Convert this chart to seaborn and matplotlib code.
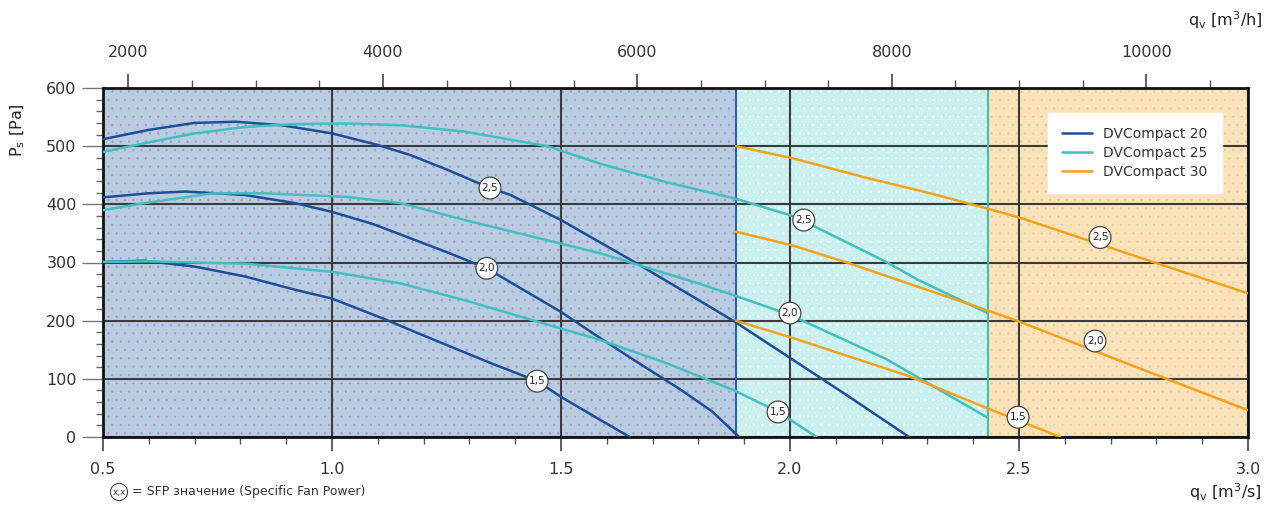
import numpy as np
import pandas as pd
import matplotlib
matplotlib.use("Agg")
import matplotlib.pyplot as plt
import seaborn as sns
from matplotlib.ticker import MultipleLocator

# ---------------- data ----------------
models = ["DVCompact 20", "DVCompact 25", "DVCompact 30"]

dv20_a_q = [0.5, 0.6, 0.7, 0.79, 0.89, 1.0, 1.10, 1.17, 1.25, 1.345, 1.39, 1.50, 1.66, 1.78, 1.88, 2.0, 2.12, 2.26]
dv20_a_p = [512, 528, 540, 542, 536, 522, 502, 485, 460, 428, 416, 373, 301, 245, 198, 136, 74, 0]
dv20_b_q = [0.5, 0.6, 0.68, 0.81, 0.92, 1.0, 1.09, 1.17, 1.25, 1.338, 1.42, 1.50, 1.58, 1.66, 1.76, 1.83, 1.889]
dv20_b_p = [412, 419, 422, 416, 402, 387, 366, 342, 318, 290, 252, 215, 173, 132, 82, 44, 0]
dv20_c_q = [0.5, 0.59, 0.70, 0.81, 0.92, 1.0, 1.12, 1.18, 1.26, 1.35, 1.448, 1.50, 1.58, 1.65]
dv20_c_p = [301, 303, 293, 276, 253, 238, 201, 181, 155, 126, 96, 69, 32, 0]

dv25_a_q = [0.5, 0.59, 0.70, 0.81, 0.92, 1.03, 1.15, 1.29, 1.47, 1.585, 1.73, 1.88, 2.01, 2.21, 2.28, 2.432]
dv25_a_p = [490, 505, 522, 533, 538, 539, 536, 525, 500, 470, 438, 410, 379, 301, 270, 213]
dv25_b_q = [0.5, 0.59, 0.74, 0.85, 1.03, 1.15, 1.29, 1.44, 1.585, 1.73, 1.80, 1.88, 2.0, 2.21, 2.432]
dv25_b_p = [390, 402, 419, 419, 413, 402, 373, 344, 316, 281, 264, 243, 210, 134, 33]
dv25_c_q = [0.5, 0.6, 0.7, 0.81, 1.0, 1.15, 1.29, 1.45, 1.585, 1.73, 1.876, 1.975, 2.058]
dv25_c_p = [301, 302, 300, 298, 284, 264, 235, 198, 167, 127, 81, 43, 0]

dv30_a_q = [1.882, 2.007, 2.16, 2.306, 2.43, 2.506, 2.80, 3.0]
dv30_a_p = [500, 479, 447, 419, 393, 376, 299, 247]
dv30_b_q = [1.882, 2.007, 2.124, 2.43, 2.502, 2.75, 3.0]
dv30_b_p = [353, 329, 300, 218, 198, 122, 46]
dv30_c_q = [1.882, 2.007, 2.262, 2.432, 2.59]
dv30_c_p = [200, 170, 104, 49, 0]

# SFP markers
sfp_q = [1.345, 1.338, 1.448, 2.03, 2.0, 1.974, 2.677, 2.666, 2.498]
sfp_p = [428, 290, 96, 373, 213, 43, 343, 165, 34]
sfp_text = ["2,5", "2,0", "1,5", "2,5", "2,0", "1,5", "2,5", "2,0", "1,5"]

# model operating ranges (background bands)
region_edges = [0.5, 1.882, 2.432, 3.0]

x_ticks = [0.5, 1.0, 1.5, 2.0, 2.5, 3.0]
x_ticklabels = ["0.5", "1.0", "1.5", "2.0", "2.5", "3.0"]
y_ticks = [0, 100, 200, 300, 400, 500, 600]
top_ticks = [2000, 4000, 6000, 8000, 10000]

# ---------------- build table ----------------
curves = [
    ("DVCompact 20", "a", dv20_a_q, dv20_a_p), ("DVCompact 20", "b", dv20_b_q, dv20_b_p),
    ("DVCompact 20", "c", dv20_c_q, dv20_c_p),
    ("DVCompact 25", "a", dv25_a_q, dv25_a_p), ("DVCompact 25", "b", dv25_b_q, dv25_b_p),
    ("DVCompact 25", "c", dv25_c_q, dv25_c_p),
    ("DVCompact 30", "a", dv30_a_q, dv30_a_p), ("DVCompact 30", "b", dv30_b_q, dv30_b_p),
    ("DVCompact 30", "c", dv30_c_q, dv30_c_p),
]
rows = []
for m, c, qs, ps in curves:
    for q, p in zip(qs, ps):
        rows.append({"model": m, "curve": m + c, "q": q, "p": p})
df = pd.DataFrame(rows)

# ---------------- styling ----------------
sns.set_theme(style="white")
plt.rcParams["font.family"] = ["DejaVu Sans"]
plt.rcParams["hatch.linewidth"] = 0.6

line_colors = {"DVCompact 20": "#1d4e96", "DVCompact 25": "#43bfc0", "DVCompact 30": "#f4a21c"}
band_faces = ["#b9cde1", "#c9f0ef", "#fde2b9"]
band_dots = ["#ad98d8", "#f4ffff", "#cfd9a6"]
band_lines = ["#2f5fae", "#3cbcbc", None]

W, H = 1274, 515
fig = plt.figure(figsize=(W / 100, H / 100), dpi=100)
ax = fig.add_axes([103 / W, 1 - 437 / H, (1248 - 103) / W, (437 - 88) / H])

for i in range(3):
    ax.axvspan(region_edges[i], region_edges[i + 1], facecolor=band_faces[i],
               edgecolor=band_dots[i], hatch="..", lw=0, zorder=0)
    if band_lines[i]:
        ax.axvline(region_edges[i + 1], color=band_lines[i], lw=1.5, zorder=1.6)

ax.set_axisbelow(True)
ax.grid(True, which="major", color="#3b3b3b", lw=1.5)

sns.lineplot(data=df, x="q", y="p", hue="model", units="curve", estimator=None,
             sort=False, palette=line_colors, lw=1.8, ax=ax, zorder=3)

for q, p, t in zip(sfp_q, sfp_p, sfp_text):
    ax.text(q, p, t, ha="center", va="center", fontsize=7.5, color="#222",
            bbox=dict(boxstyle="circle,pad=0.25", fc="white", ec="#444", lw=0.9), zorder=5)

ax.set_xlim(region_edges[0], region_edges[-1])
ax.set_ylim(0, 600)
ax.set_xticks(x_ticks)
ax.set_xticklabels(x_ticklabels)
ax.set_yticks(y_ticks)
ax.xaxis.set_minor_locator(MultipleLocator(0.1))
ax.yaxis.set_minor_locator(MultipleLocator(20))
ax.set_xlabel("")
ax.set_ylabel("")

for s in ax.spines.values():
    s.set_color("#111")
    s.set_linewidth(2)

ax.tick_params(axis="x", which="major", bottom=True, direction="out", length=10, width=1.2,
               color="#444", labelsize=11.5, labelcolor="#333", pad=8)
ax.tick_params(axis="x", which="minor", bottom=True, direction="out", length=5, width=1, color="#555")
ax.tick_params(axis="y", which="major", left=True, direction="out", length=15, width=1,
               color="#777", labelsize=11.5, labelcolor="#333", pad=4)
ax.tick_params(axis="y", which="minor", left=True, direction="out", length=5, width=1, color="#666")

sec = ax.secondary_xaxis("top", functions=(lambda x: x * 3600, lambda x: x / 3600))
sec.set_xticks(top_ticks)
sec.set_xticklabels([str(t) for t in top_ticks])
sec.xaxis.set_minor_locator(MultipleLocator(500))
sec.tick_params(axis="x", which="major", top=True, direction="out", length=10, width=1.2,
                color="#444", labelsize=11.5, labelcolor="#333", pad=10)
sec.tick_params(axis="x", which="minor", top=True, direction="out", length=6, width=1, color="#555")
sec.spines["top"].set_visible(False)

handles, labels = ax.get_legend_handles_labels()
leg = ax.legend(handles, labels, loc="upper right", bbox_to_anchor=(0.983, 0.948),
                frameon=True, fancybox=False, framealpha=1, facecolor="white",
                edgecolor="white", fontsize=10, handlelength=2.2, borderpad=1.0,
                labelspacing=0.35, labelcolor="#333")
leg.set_zorder(6)

fig.text(18 / W, 1 - 130 / H, r"P$_\mathregular{s}$ [Pa]", rotation=90, ha="center",
         va="center", fontsize=11.5, color="#222")
fig.text(1262 / W, 1 - 20 / H, r"q$_\mathregular{v}$ [m$^\mathregular{3}$/h]", ha="right",
         va="center", fontsize=11.5, color="#222")
fig.text(1262 / W, 1 - 492 / H, r"q$_\mathregular{v}$ [m$^\mathregular{3}$/s]", ha="right",
         va="center", fontsize=11.5, color="#222")
fig.text(119 / W, 1 - 492 / H, "x,x", ha="center", va="center", fontsize=6.5, color="#333",
         bbox=dict(boxstyle="circle,pad=0.2", fc="white", ec="#444", lw=0.8))
fig.text(132 / W, 1 - 492 / H, "= SFP значение (Specific Fan Power)", ha="left",
         va="center", fontsize=9, color="#333")

fig.savefig("out.png", dpi=100)
